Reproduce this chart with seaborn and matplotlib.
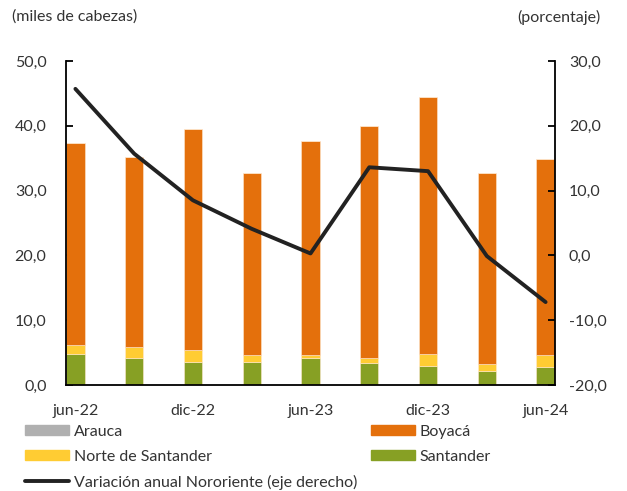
import matplotlib
matplotlib.use("Agg")
import matplotlib.pyplot as plt
import seaborn as sns
import numpy as np
import pandas as pd
from matplotlib.patches import Patch
from matplotlib.lines import Line2D
from matplotlib.ticker import FuncFormatter, FixedLocator

sns.set_style("white")
plt.rcParams['font.family'] = ['Lato', 'DejaVu Sans']

periods = ["jun-22", "sep-22", "dic-22", "mar-23", "jun-23", "sep-23", "dic-23", "mar-24", "jun-24"]
santander = [4.8, 4.2, 3.6, 3.6, 4.1, 3.4, 3.0, 2.1, 2.8]
norte_santander = [1.4, 1.6, 1.8, 1.0, 0.5, 0.8, 1.8, 1.1, 1.8]
boyaca = [31.2, 29.4, 34.1, 28.1, 33.1, 35.8, 39.7, 29.5, 30.3]
arauca = [0.0, 0.0, 0.0, 0.0, 0.0, 0.0, 0.0, 0.0, 0.0]
variacion = [25.7, 15.7, 8.5, 4.1, 0.3, 13.6, 13.0, -0.1, -7.2]
tick_labels = ["jun-22", "dic-22", "jun-23", "dic-23", "jun-24"]

c_sant = "#87A024"
c_nds = "#FFCC33"
c_boy = "#E4700C"
c_ara = "#B0B0B0"
c_line = "#222222"

fig = plt.figure(figsize=(6.27, 4.91), dpi=100)
ax = fig.add_axes([66/627, 1-385/491, (555-66)/627, (385-61)/491])

df = pd.DataFrame({"periodo": periods, "Santander": santander,
                   "Norte de Santander": norte_santander,
                   "Boyacá": boyaca, "Arauca": arauca})
x = np.arange(len(periods))
w = 0.31
bottom = np.zeros(len(periods))
for col, c in [("Santander", c_sant), ("Norte de Santander", c_nds),
               ("Boyacá", c_boy), ("Arauca", c_ara)]:
    vals = df[col].values
    ax.bar(x, vals, width=w, bottom=bottom, color=c, edgecolor="#FFE8D0",
           linewidth=0.4, zorder=2)
    bottom = bottom + vals

ax.set_xlim(-0.16, 8.16)
ax.set_ylim(0, 50)
ax.set_yticks(np.arange(0, 51, 10))
fmt = FuncFormatter(lambda v, p: f"{v:.1f}".replace(".", ","))
ax.yaxis.set_major_formatter(fmt)

major = [0, 2, 4, 6, 8]
ax.xaxis.set_major_locator(FixedLocator(major))
ax.set_xticklabels(tick_labels)
ax.xaxis.set_minor_locator(FixedLocator([m - w/2 for m in major]))
ax.tick_params(axis="x", which="major", length=0, pad=14)
ax.tick_params(axis="x", which="minor", direction="in", length=5, width=1.3, color="black")
ax.tick_params(axis="y", direction="in", length=5, width=1.3, color="black", pad=14)
ax.tick_params(labelsize=11.5, labelcolor="#333333")

for s in ["top", "right"]:
    ax.spines[s].set_visible(False)
for s in ["left", "bottom"]:
    ax.spines[s].set_color("black")
    ax.spines[s].set_linewidth(1.3)

ax2 = ax.twinx()
line_df = pd.DataFrame({"x": x, "v": variacion})
sns.lineplot(data=line_df, x="x", y="v", ax=ax2, color=c_line, linewidth=2.8, zorder=5)
ax2.set_ylim(-20, 30)
ax2.set_yticks(np.arange(-20, 31, 10))
ax2.yaxis.set_major_formatter(fmt)
ax2.set_xlim(-0.16, 8.16)
ax2.set_ylabel("")
ax2.set_xlabel("")
ax2.tick_params(axis="y", direction="in", length=5, width=1.3, color="black",
                pad=10, labelsize=11.5, labelcolor="#333333")
for s in ["top", "left", "bottom"]:
    ax2.spines[s].set_visible(False)
ax2.spines["right"].set_color("black")
ax2.spines["right"].set_linewidth(1.3)
ax.set_xlabel("")
ax.set_ylabel("")

fig.text(12/627, 1-17/491, "(miles de cabezas)", fontsize=11.5, color="#333333",
         ha="left", va="center")
fig.text(600/627, 1-17/491, "(porcentaje)", fontsize=11.5, color="#333333",
         ha="right", va="center")

leg_kw = dict(frameon=False, fontsize=11.5, handlelength=2.75, handleheight=0.6,
              labelspacing=0.68, handletextpad=0.3, borderaxespad=0, borderpad=0,
              labelcolor="#333333")
h1 = [Patch(color=c_ara), Patch(color=c_nds), Line2D([], [], color=c_line, lw=2.8)]
l1 = ["Arauca", "Norte de Santander", "Variación anual Nororiente (eje derecho)"]
fig.legend(h1, l1, loc="upper left", bbox_to_anchor=(25/627, 1-425/491), **leg_kw)
h2 = [Patch(color=c_boy), Patch(color=c_sant)]
l2 = ["Boyacá", "Santander"]
fig.legend(h2, l2, loc="upper left", bbox_to_anchor=(371/627, 1-425/491), **leg_kw)

fig.savefig("out.png", dpi=100)
